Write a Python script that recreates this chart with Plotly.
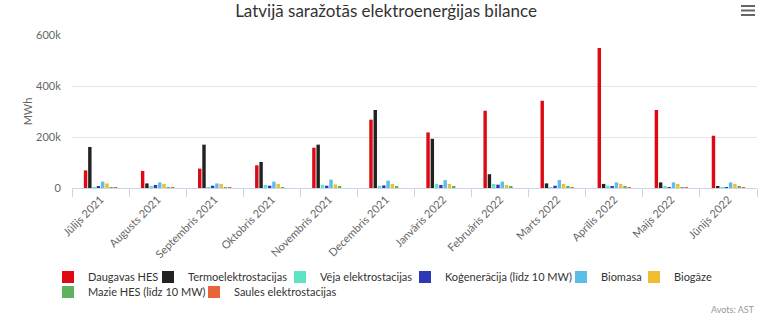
import plotly.graph_objects as go

months = ["Jūlijs 2021", "Augusts 2021", "Septembris 2021", "Oktobris 2021",
          "Novembris 2021", "Decembris 2021", "Janvāris 2022", "Februāris 2022",
          "Marts 2022", "Aprīlis 2022", "Maijs 2022", "Jūnijs 2022"]

daugavas_hes = [69000, 67000, 76000, 89000, 158000, 268000, 218000, 303000, 342000, 549000, 306000, 205000]
termo = [161000, 18000, 170000, 102000, 170000, 306000, 193000, 54000, 18000, 16000, 22000, 5000]
veja = [2000, 4000, 3000, 12000, 13000, 9000, 16000, 16000, 1000, 9000, 4000, 1000]
kogeneracija = [5000, 12000, 9000, 9000, 9000, 10000, 12000, 13000, 9000, 5000, 1000, 1000]
biomasa = [25000, 22000, 18000, 25000, 33000, 29000, 31000, 25000, 31000, 22000, 22000, 22000]
biogaze = [18000, 16000, 16000, 16000, 14000, 16000, 16000, 12000, 16000, 16000, 16000, 16000]
mazie_hes = [1000, 1000, 1000, 2000, 5000, 5000, 5000, 5000, 5000, 5000, 3000, 5000]
saules = [300, 200, 100, 0, 0, 0, 0, 0, 100, 200, 300, 300]

series_names = ["Daugavas HES", "Termoelektrostacijas", "Vēja elektrostacijas",
                "Koģenerācija (līdz 10 MW)", "Biomasa", "Biogāze",
                "Mazie HES (līdz 10 MW)", "Saules elektrostacijas"]
series_values = [daugavas_hes, termo, veja, kogeneracija, biomasa, biogaze, mazie_hes, saules]
series_colors = ["#dd0a14", "#222222", "#5ee3c4", "#2f39b8", "#5cbde8", "#f0be32", "#5cb25f", "#e8643a"]

# legend entry positions (symbol left x, row centre y) in pixels
legend_pos = [(66, 277), (166, 277), (298, 277), (423, 277), (579, 277), (652, 277),
              (66, 292), (212, 292)]

FONT = "Lato"
W, H = 768, 325
L, R, T, B = 72, 11, 35, 137
pw, ph = W - L - R, H - T - B

def px(x):
    return (x - L) / pw

def py(y):
    return (H - B - y) / ph

fig = go.Figure()
legend_layouts = {}
for i, (name, vals, color) in enumerate(zip(series_names, series_values, series_colors)):
    key = "legend" if i == 0 else f"legend{i + 1}"
    fig.add_trace(go.Bar(x=months, y=vals, name=name, marker_color=color,
                         marker_line_width=0, legend=key))
    sx, sy = legend_pos[i]
    legend_layouts[key] = dict(
        orientation="h", x=px(sx - 18), xanchor="left", y=py(sy), yanchor="middle",
        font=dict(size=11, color="#333333", family=FONT),
        bgcolor="rgba(0,0,0,0)", borderwidth=0, itemclick=False, itemdoubleclick=False)

shapes = []
for yy in (6, 10.5, 15):
    shapes.append(dict(type="line", xref="paper", yref="paper",
                       x0=px(741), x1=px(755), y0=py(yy), y1=py(yy),
                       line=dict(color="#666666", width=2)))

fig.update_layout(
    width=W, height=H,
    margin=dict(l=L, r=R, t=T, b=B),
    paper_bgcolor="white", plot_bgcolor="white",
    font=dict(family=FONT, color="#333333"),
    title=dict(text="Latvijā saražotās elektroenerģijas bilance",
               x=px(386), xanchor="center", xref="paper",
               y=1 - 11 / H, yanchor="middle",
               font=dict(size=17, color="#333333", family=FONT)),
    barmode="group", bargap=0.4, bargroupgap=0.2,
    showlegend=True,
    shapes=shapes,
    annotations=[dict(text="Avots: AST", xref="paper", yref="paper",
                      x=px(757), y=py(309), xanchor="right", yanchor="middle",
                      showarrow=False, font=dict(size=9, color="#999999", family=FONT))],
    **legend_layouts,
)

fig.update_xaxes(
    type="category", tickson="boundaries", ticks="outside", ticklen=8,
    tickcolor="#ccd6eb", showline=True, linecolor="#ccd6eb", linewidth=1,
    showgrid=False, tickangle=-45,
    tickfont=dict(size=11, color="#666666", family=FONT),
)
fig.update_yaxes(
    range=[0, 600000], tickvals=[0, 200000, 400000, 600000],
    ticktext=["0", "200k", "400k", "600k"],
    showgrid=True, gridcolor="#e6e6e6", gridwidth=1, zeroline=False,
    ticks="outside", ticklen=8, tickcolor="rgba(0,0,0,0)",
    tickfont=dict(size=11, color="#666666", family=FONT),
    title=dict(text="MWh", standoff=1, font=dict(size=11, color="#666666", family=FONT)),
)

fig.write_html("out.html")
